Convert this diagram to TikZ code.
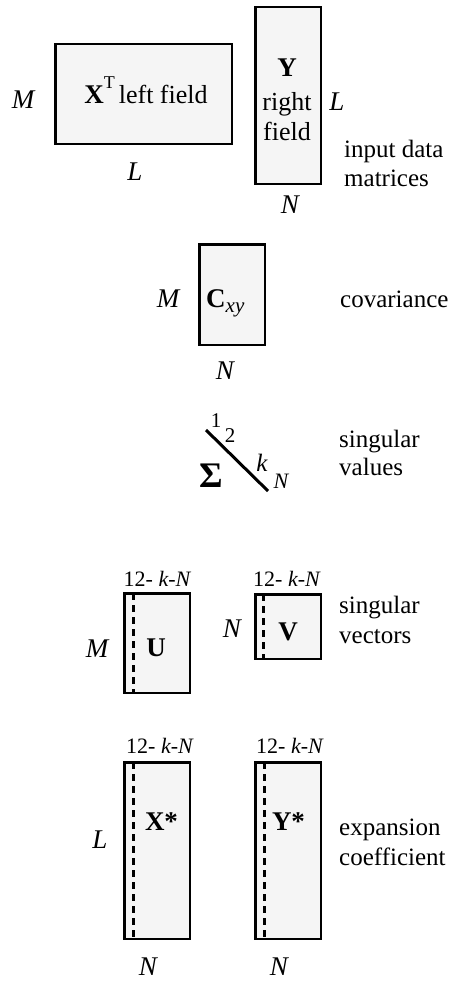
\documentclass[tikz,border=0pt]{standalone}
\usepackage{fontspec}
\setmainfont{Liberation Serif}
\newcommand\fsz[1]{\fontsize{#1}{#1}\selectfont}
\definecolor{boxfill}{RGB}{245,245,245}
\begin{document}
\begin{tikzpicture}[x=1pt,y=-1pt,
  mat/.style={draw, line width=2.5pt, fill=boxfill, inner sep=0pt, outer sep=0pt, minimum width=65.5pt},
  dl/.style={line width=2.5pt, dash pattern=on 7pt off 5pt},
  dim/.style={anchor=base, inner sep=0pt, font=\fsz{27}\itshape},
  side/.style={anchor=base west, inner sep=0pt, font=\fsz{25}},
  idx/.style={anchor=base, inner sep=0pt, font=\fsz{22}},
  txt/.style={anchor=base, inner sep=0pt, font=\fsz{26}},
  big/.style={anchor=base, inner sep=0pt, font=\fsz{27}\bfseries}]
\useasboundingbox (0,0) rectangle (453,982);

% input data matrices
\node[mat, minimum width=176.5pt, minimum height=99.5pt] (XT) at (143.5,94) {};
\node[mat, minimum height=176.5pt] (Y) at (288,95.5) {};
\node[dim] (mXT) at (23,108) {M};
\node[txt] (tXT) at (146,103) {{\fsz{27}\bfseries X}\raisebox{15pt}{\fsz{18}T}\hspace{4pt}left field};
\node[dim] (lXT) at (135,180) {L};
\node[big] (tY) at (287,77) {Y};
\node[txt] (tY2) at (287,110) {right};
\node[txt] (tY3) at (287,140) {field};
\node[dim] (lY) at (337,110) {L};
\node[dim] (nY) at (290,213) {N};
\node[side] (in1) at (344,157) {input data};
\node[side] (in2) at (344,186) {matrices};

% covariance
\node[mat, minimum height=100.5pt] (C) at (232,294.5) {};
\node[dim] (mC) at (168,307) {M};
\node[anchor=base west, inner sep=0pt, font=\fsz{27}] (tC) at (206,307) {\textbf{C}\raisebox{-5pt}{\fsz{21}\itshape xy}};
\node[dim] (nC) at (225,379) {N};
\node[side] (cov) at (340,307) {covariance};

% singular values
\coordinate (s1) at (206,430);
\coordinate (s2) at (268,491);
\draw[line width=3pt] (s1) -- (s2);
\node[anchor=base, inner sep=0pt, font=\fsz{21}] (i1) at (216,427) {1};
\node[anchor=base, inner sep=0pt, font=\fsz{21}] (i2) at (230,442) {2};
\node[anchor=base, inner sep=0pt, font=\fsz{36}\bfseries] (sig) at (211,487) {Σ};
\node[anchor=base, inner sep=0pt, font=\fsz{25}\itshape] (ik) at (262,471) {k};
\node[anchor=base, inner sep=0pt, font=\fsz{22}\itshape] (iN) at (281,488) {N};
\node[side] (sv1) at (339,447) {singular};
\node[side] (sv2) at (339,475) {values};

% singular vectors
\node[mat, minimum height=99.5pt] (U) at (157,643) {};
\node[mat, minimum height=64.5pt] (V) at (288,626.5) {};
\draw[dl] ([xshift=9pt]U.north west) -- ([xshift=9pt]U.south west);
\draw[dl] ([xshift=8pt]V.north west) -- ([xshift=8pt]V.south west);
\node[idx] (hU) at (157.5,586) {12- \textit{k-N}};
\node[idx] (hV) at (287,586) {12- \textit{k-N}};
\node[dim] (mU) at (97,657) {M};
\node[big] (tU) at (156,656) {U};
\node[dim] (nV) at (232,637) {N};
\node[big] (tV) at (288,640) {V};
\node[side] (vec1) at (339,613) {singular};
\node[side] (vec2) at (339,643) {vectors};

% expansion coefficients
\node[mat, minimum height=176.5pt] (Xs) at (157,850.5) {};
\node[mat, minimum height=176.5pt] (Ys) at (288,850.5) {};
\draw[dl] ([xshift=9pt]Xs.north west) -- ([xshift=9pt]Xs.south west);
\draw[dl] ([xshift=9pt]Ys.north west) -- ([xshift=9pt]Ys.south west);
\node[idx] (hX) at (160,753) {12- \textit{k-N}};
\node[idx] (hY) at (290,753) {12- \textit{k-N}};
\node[big] (tXs) at (161.5,830) {X*};
\node[big] (tYs) at (288.5,830) {Y*};
\node[dim] (lXs) at (100,848) {L};
\node[dim] (nXs) at (148,975) {N};
\node[dim] (nYs) at (279,975) {N};
\node[side] (ex1) at (339,835) {expansion};
\node[side] (ex2) at (339,865) {coefficient};
\end{tikzpicture}
\end{document}
